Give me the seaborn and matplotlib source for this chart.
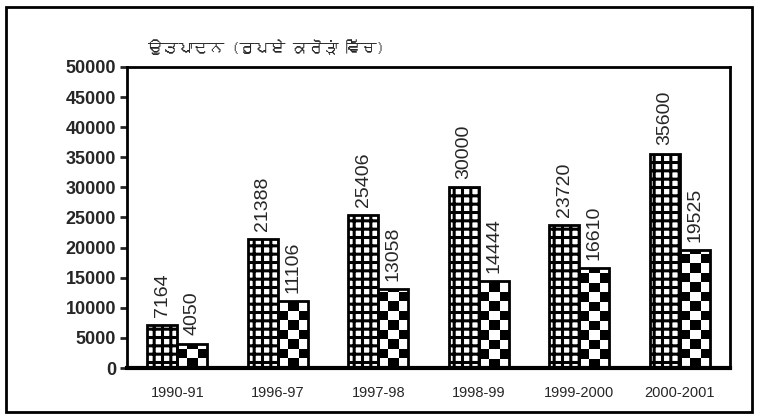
import numpy as np
import pandas as pd
import matplotlib
matplotlib.use("Agg")
import matplotlib.pyplot as plt
import seaborn as sns
from matplotlib import font_manager as fm
from matplotlib.ft2font import FT2Font
from matplotlib.patches import Rectangle
from matplotlib.colors import ListedColormap

## data
years = ["1990-91", "1996-97", "1997-98", "1998-99", "1999-2000", "2000-2001"]
series_a = [7164, 21388, 25406, 30000, 23720, 35600]
series_b = [4050, 11106, 13058, 14444, 16610, 19525]
title = "ਉਤਪਾਦਨ (ਰੁਪਏ ਕਰੋੜਾਂ ਵਿੱਚ)"
y_ticks = list(range(0, 50001, 5000))


def gurmukhi_font():
    # look for any installed font that can draw Gurmukhi
    for f in fm.fontManager.ttflist:
        try:
            if 0x0A09 in FT2Font(f.fname).get_charmap():
                return f.name
        except Exception:
            pass
    return None


df = pd.DataFrame({
    "year": years * 2,
    "value": series_a + series_b,
    "series": ["a"] * len(years) + ["b"] * len(years),
})

sns.set_style("white")
plt.rcParams["font.family"] = ["Liberation Sans", "DejaVu Sans"]
plt.rcParams["hatch.linewidth"] = 2.2
plt.rcParams["hatch.color"] = "black"

fig = plt.figure(figsize=(7.58, 4.19), dpi=100)
ax = fig.add_axes([127 / 758, 1 - 368 / 419, 603 / 758, 301 / 419])

sns.barplot(data=df, x="year", y="value", hue="series",
            palette=["white", "white"], saturation=1, width=0.6,
            edgecolor="black", linewidth=2, legend=False, ax=ax)

ax.set_xlim(-0.5, 5.5)
ax.set_ylim(0, 50000)

# grid pattern for the first series
for bar in ax.containers[0]:
    bar.set_hatch("++")

# checkerboard texture for the second series, clipped to each bar
cell = 9.5  # px
checker_cmap = ListedColormap(["white", "black"])
for bar in ax.containers[1]:
    x0, y0 = bar.get_x(), bar.get_y()
    w, h = bar.get_width(), bar.get_height()
    (px0, py0), (px1, py1) = ax.transData.transform([(x0, y0), (x0 + w, y0 + h)])
    ncol = max(1, int(round((px1 - px0) / cell)))
    nrow = int(np.ceil((py1 - py0) / cell))
    grid = np.add.outer(np.arange(nrow), np.arange(ncol)) % 2
    top = y0 + nrow * cell * h / (py1 - py0)
    img = ax.imshow(grid, cmap=checker_cmap, vmin=0, vmax=1, origin="lower",
                    extent=(x0, x0 + w, y0, top), interpolation="nearest",
                    aspect="auto", zorder=0.5)
    img.set_clip_path(bar)
    bar.set_facecolor("none")

for cont in ax.containers:
    ax.bar_label(cont, labels=[str(int(b.get_height())) for b in cont],
                 rotation=90, padding=6, fontsize=14)

ax.set_aspect("auto")
ax.set_xlim(-0.5, 5.5)
ax.set_ylim(0, 50000)
ax.set_yticks(y_ticks)
ax.set_yticklabels([str(t) for t in y_ticks], fontsize=13, fontweight="bold")
ax.set_xlabel("")
ax.set_ylabel("")
ax.tick_params(axis="x", length=0, labelsize=10.5, pad=13)
ax.tick_params(axis="y", length=5, width=2, left=True, pad=3)
for s in ax.spines.values():
    s.set_visible(True)
    s.set_color("black")
    s.set_linewidth(2)
ax.spines["bottom"].set_linewidth(3)

gfont = gurmukhi_font()
fam = [gfont, "DejaVu Sans"] if gfont else ["DejaVu Sans"]
fig.text(148 / 758, 1 - 47 / 419, title, family=fam, fontsize=11,
         fontweight="bold", va="center", ha="left")

# outer frame of the figure
fig.add_artist(Rectangle((6 / 758, 7 / 419), 746 / 758, 405 / 419,
                         transform=fig.transFigure, fill=False,
                         edgecolor="black", linewidth=2))

fig.savefig("out.png", dpi=100)
